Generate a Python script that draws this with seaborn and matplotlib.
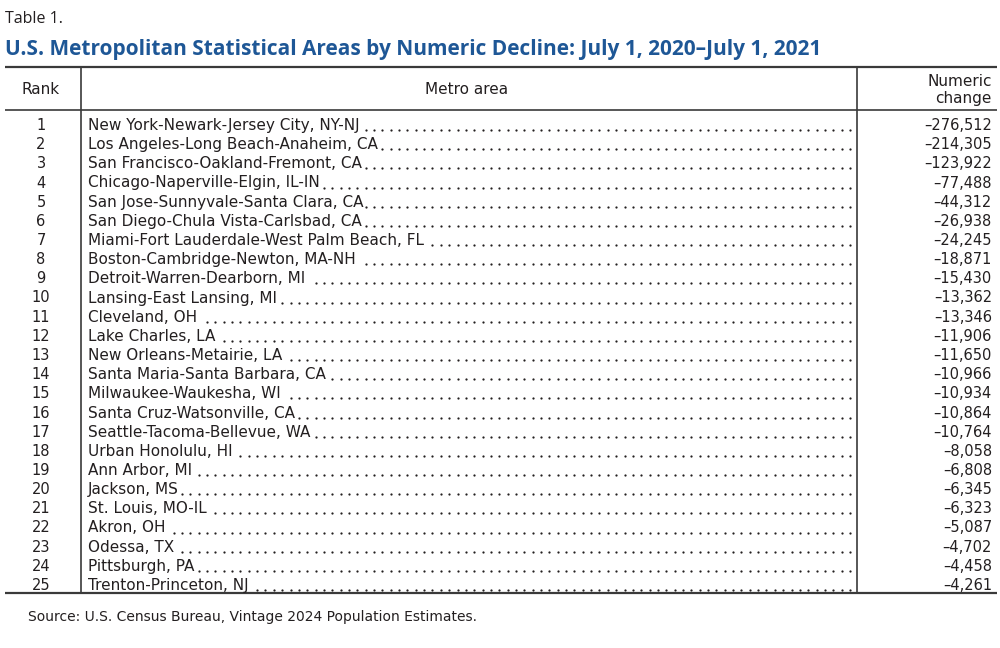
import matplotlib
matplotlib.use("Agg")
import matplotlib.pyplot as plt
import numpy as np
import pandas as pd
import seaborn as sns

# data
ranks = list(range(1, 26))
metros = [
    "New York-Newark-Jersey City, NY-NJ",
    "Los Angeles-Long Beach-Anaheim, CA",
    "San Francisco-Oakland-Fremont, CA",
    "Chicago-Naperville-Elgin, IL-IN",
    "San Jose-Sunnyvale-Santa Clara, CA",
    "San Diego-Chula Vista-Carlsbad, CA",
    "Miami-Fort Lauderdale-West Palm Beach, FL",
    "Boston-Cambridge-Newton, MA-NH",
    "Detroit-Warren-Dearborn, MI",
    "Lansing-East Lansing, MI",
    "Cleveland, OH",
    "Lake Charles, LA",
    "New Orleans-Metairie, LA",
    "Santa Maria-Santa Barbara, CA",
    "Milwaukee-Waukesha, WI",
    "Santa Cruz-Watsonville, CA",
    "Seattle-Tacoma-Bellevue, WA",
    "Urban Honolulu, HI",
    "Ann Arbor, MI",
    "Jackson, MS",
    "St. Louis, MO-IL",
    "Akron, OH",
    "Odessa, TX",
    "Pittsburgh, PA",
    "Trenton-Princeton, NJ",
]
changes = [-276512, -214305, -123922, -77488, -44312, -26938, -24245, -18871,
           -15430, -13362, -13346, -11906, -11650, -10966, -10934, -10864,
           -10764, -8058, -6808, -6345, -6323, -5087, -4702, -4458, -4261]

df = pd.DataFrame({"rank": ranks, "metro": metros, "change": changes})

sns.set_theme(style="white")
plt.rcParams["font.family"] = ["DejaVu Sans"]

TEXT = "#231f20"
BLUE = "#1e5796"
LINE = "#3a3a3a"
FS = 10.5    # digits
FS_TXT = 11  # words

fig = plt.figure(figsize=(10, 6.48), dpi=100)
ax = fig.add_axes([0, 0, 1, 1])
ax.set_xlim(0, 1000)
ax.set_ylim(648, 0)
ax.axis("off")

ax.text(5, 19, "Table 1.", fontsize=11.5, color=TEXT, va="center", ha="left",
        family=["Open Sans", "DejaVu Sans"])
ax.text(5, 49, "U.S. Metropolitan Statistical Areas by Numeric Decline: July 1, 2020\u2013July 1, 2021",
        fontsize=15, fontweight="bold", color=BLUE, va="center", ha="left",
        family=["Open Sans", "DejaVu Sans"])

top, head_bot, bottom = 67, 110, 593
col1, col2 = 81, 857
ax.plot([5, 997], [top, top], color=LINE, lw=1.6, solid_capstyle="butt")
ax.plot([5, 997], [head_bot, head_bot], color=LINE, lw=1.2, solid_capstyle="butt")
ax.plot([5, 997], [bottom, bottom], color=LINE, lw=1.6, solid_capstyle="butt")
ax.plot([col1, col1], [top, bottom], color=LINE, lw=1.2)
ax.plot([col2, col2], [top, bottom], color=LINE, lw=1.2)

ax.text(41, 90, "Rank", fontsize=FS_TXT, color=TEXT, ha="center", va="center")
ax.text(467, 90, "Metro area", fontsize=FS_TXT, color=TEXT, ha="center", va="center")
ax.text(992, 81, "Numeric", fontsize=FS_TXT, color=TEXT, ha="right", va="center")
ax.text(992, 99, "change", fontsize=FS_TXT, color=TEXT, ha="right", va="center")

y0, dy = 125.5, (585 - 125) / 24
fig.canvas.draw()
renderer = fig.canvas.get_renderer()
dot_x = np.arange(850, 80, -8.35)[::-1]
dot_rows = []
for i, row in df.iterrows():
    y = y0 + i * dy
    ax.text(41, y, str(row["rank"]), fontsize=FS, color=TEXT, ha="center", va="center")
    t = ax.text(88, y, row["metro"], fontsize=FS_TXT, color=TEXT, ha="left", va="center")
    ax.text(992, y, f"{row['change']:,}".replace("-", "\u2013"), fontsize=FS,
            color=TEXT, ha="right", va="center")
    end = t.get_window_extent(renderer).x1
    for x in dot_x[dot_x > end + 2]:
        dot_rows.append((x, y + 4.5))

dots = pd.DataFrame(dot_rows, columns=["x", "y"])
sns.scatterplot(data=dots, x="x", y="y", ax=ax, s=2.6, color=TEXT, linewidth=0, legend=False)
ax.set_xlim(0, 1000)
ax.set_ylim(648, 0)
ax.axis("off")

ax.text(28, 617, "Source: U.S. Census Bureau, Vintage 2024 Population Estimates.",
        fontsize=10, color=TEXT, ha="left", va="center")

fig.savefig("out.png", dpi=100)
